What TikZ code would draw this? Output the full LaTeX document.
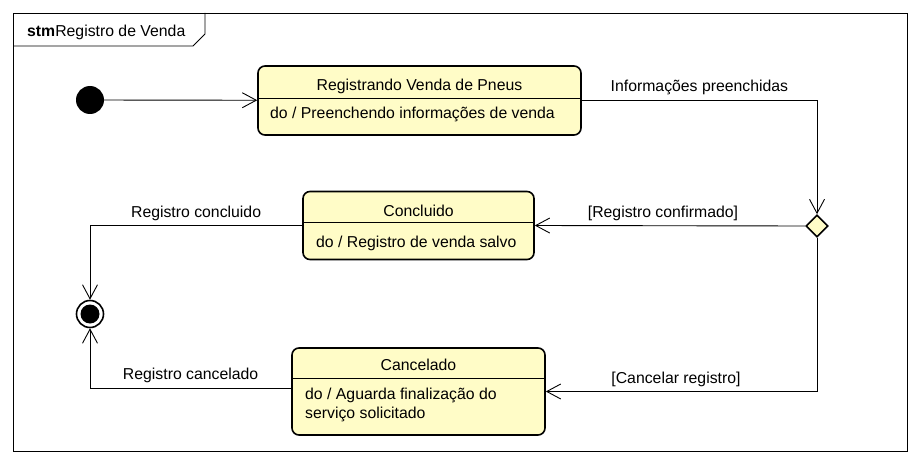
\documentclass[tikz,border=0pt]{standalone}
\usepackage{fontspec}
\setmainfont{Liberation Sans}
\usetikzlibrary{arrows.meta,shapes.geometric}

\begin{document}
\begin{tikzpicture}[x=1pt,y=-1pt,
        font=\fontsize{15.8}{19}\selectfont,
        >={Straight Barb[length=14pt,width=15pt]},
        estado/.style={draw,line width=1.6pt,rounded corners=7pt,fill=amarelo,inner sep=0pt},
        texto/.style={inner sep=0pt,anchor=base},
        rotulo/.style={inner sep=0pt,anchor=base,yshift=8.5pt},
        trans/.style={line width=0.9pt}]
        %cores
        \colorlet{amarelo}{yellow!22!white}

        \useasboundingbox (0,0) rectangle (920,465);

        % Quadro stm
        \draw[line width=0.9pt] (13,13) rectangle (907,451);
        \draw[line width=0.9pt] (13,46) -- (193,46) -- (205,34) -- (205,13);
        \node[texto,anchor=base west] (quadro) at (27,37) {\textbf{stm}Registro de Venda};

        % Estado inicial
        \node[circle,fill=black,minimum size=28pt,inner sep=0pt] (inicio) at (90,100) {};

        % Estado 1, registrando
        \node[estado,minimum width=323pt,minimum height=69pt] (registrando) at (419.5,100.5) {};
        \draw[line width=0.9pt] (registrando.west |- 0,98) -- (registrando.east |- 0,98);
        \node[texto] (registrando titulo) at (419.5,91) {Registrando Venda de Pneus};
        \node[texto,anchor=base west] (registrando corpo) at (270,119) {do / Preenchendo informações de venda};

        % Decisao
        \node[diamond,draw,line width=1.6pt,fill=amarelo,minimum size=22pt,inner sep=0pt] (decisao) at (817,226) {};

        % Estado 2, concluido
        \node[estado,minimum width=231pt,minimum height=68pt] (concluido) at (418.5,225.5) {};
        \draw[line width=0.9pt] (concluido.west |- 0,222) -- (concluido.east |- 0,222);
        \node[texto] (concluido titulo) at (418.5,216) {Concluido};
        \node[texto,anchor=base west] (concluido corpo) at (316,247) {do / Registro de venda salvo};

        % Estado 3, cancelado
        \node[estado,minimum width=253pt,minimum height=87pt] (cancelado) at (418.5,391.5) {};
        \draw[line width=0.9pt] (cancelado.west |- 0,378) -- (cancelado.east |- 0,378);
        \node[texto] (cancelado titulo) at (418.5,370) {Cancelado};
        \node[texto,anchor=base west] (cancelado corpo a) at (305,399) {do / Aguarda finalização do};
        \node[texto,anchor=base west] (cancelado corpo b) at (305,418) {serviço solicitado};

        % Estado final
        \node[circle,draw,line width=1.6pt,minimum size=27pt,inner sep=0pt] (fim) at (90,314) {};
        \node[circle,fill=black,minimum size=19pt,inner sep=0pt] (fim centro) at (fim) {};

        % Transicoes
        \draw[trans,->] (inicio) -- (registrando);
        \draw[trans,->] (registrando.east) -| node[rotulo,pos=0.25] (rot info) {Informações preenchidas} (decisao.north);
        \draw[trans,->] (decisao.west) -- node[rotulo,pos=0.526] (rot confirmado) {[Registro confirmado]} (concluido.east);
        \draw[trans,->] (decisao.south) |- node[rotulo,pos=0.76] (rot cancelar) {[Cancelar registro]} (cancelado.east);
        \draw[trans,->] (concluido.west) -| node[rotulo,pos=0.25] (rot concluido) {Registro concluido} (fim.north);
        \draw[trans,->] ([yshift=3.5pt]cancelado.west) -| node[rotulo,pos=0.25] (rot cancelado) {Registro cancelado} (fim.south);
    \end{tikzpicture}
\end{document}
